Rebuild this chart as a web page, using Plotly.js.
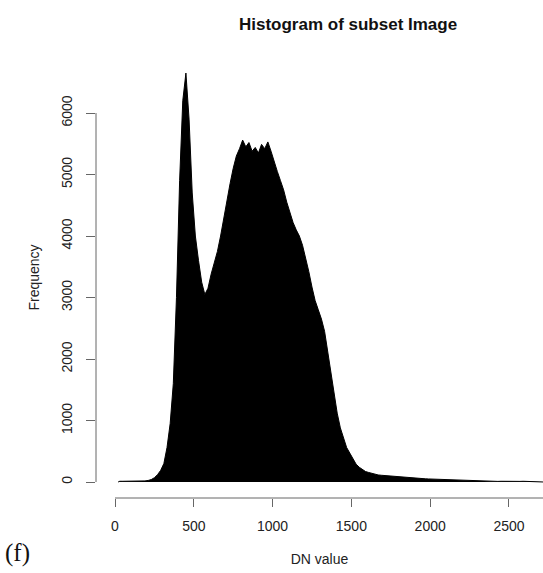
<!DOCTYPE html>
<html>
<head>
<meta charset="utf-8">
<script src="https://cdn.plot.ly/plotly-3.0.1.min.js"></script>
<style>
  html, body { margin: 0; padding: 0; background: #ffffff; }
  #chart { width: 543px; height: 573px; }
</style>
</head>
<body>
<div id="chart"></div>
<script>
// Histogram of DN values: bins start at binStart, each binWidth wide.
const binStart = 20;
const binWidth = 20;
const freq = [
  12, 12, 12, 12, 12, 12, 12, 14, 18, 25,
  40, 70, 120, 190, 300, 560, 950, 1600, 3000, 4900,
  6200, 6650, 5900, 4700, 4000, 3600, 3250, 3050, 3150, 3380,
  3550, 3750, 4000, 4300, 4550, 4850, 5100, 5300, 5420, 5560,
  5450, 5520, 5380, 5440, 5350, 5490, 5420, 5530, 5380, 5200,
  5050, 4900, 4750, 4550, 4380, 4220, 4100, 4000, 3850, 3650,
  3420, 3170, 2950, 2800, 2650, 2450, 2100, 1750, 1450, 1120,
  880, 700, 560, 470, 380, 290, 240, 200, 170, 155,
  140, 125, 115, 110, 105, 100, 98, 92, 88, 82,
  78, 72, 66, 62, 60, 58, 55, 52, 50, 48,
  46, 44, 42, 38, 35, 33, 30, 27, 24, 20,
  18, 16, 15, 14, 13, 12, 11, 12, 10, 11,
  10, 12, 10, 11, 10, 10, 11, 10, 12, 10,
  11, 10, 12, 10, 11
];
const xTicks = [0, 500, 1000, 1500, 2000, 2500, 3000];
const yTicks = [0, 1000, 2000, 3000, 4000, 5000, 6000];

// bin midpoints, with the outer bin edges closing the silhouette at zero
const mids = freq.map((_, i) => binStart + i * binWidth + binWidth / 2);
const xs = [binStart].concat(mids, [binStart + freq.length * binWidth]);
const ys = [0].concat(freq, [0]);

const axisGray = '#666666';
const textColor = '#222222';
const sans = '"Liberation Sans", Arial, sans-serif';

const trace = {
  type: 'scatter',
  mode: 'lines',
  x: xs,
  y: ys,
  line: { color: '#000000', width: 1, shape: 'linear' },
  fill: 'tozeroy',
  fillcolor: '#000000',
  hoverinfo: 'skip'
};

const layout = {
  width: 543,
  height: 573,
  margin: { l: 96, r: 0, t: 57, b: 75 },
  paper_bgcolor: '#ffffff',
  plot_bgcolor: '#ffffff',
  showlegend: false,
  font: { family: sans, size: 14, color: textColor },
  title: {
    text: '<b>Histogram of subset Image</b>',
    font: { family: sans, size: 17, color: '#111111' },
    xref: 'container', yref: 'container',
    x: 0.641, y: 0.958,
    xanchor: 'center', yanchor: 'middle'
  },
  xaxis: {
    range: [-120.6, 2716],
    tickvals: xTicks,
    ticktext: xTicks.map(String),
    ticks: 'outside', ticklen: 8, tickwidth: 1, tickcolor: axisGray,
    ticklabelstandoff: 7,
    showline: false, showgrid: false, zeroline: false,
    tickfont: { family: sans, size: 14, color: textColor },
    title: { text: 'DN value', font: { family: sans, size: 14, color: textColor }, standoff: 21 }
  },
  yaxis: {
    range: [-260, 6911],
    tickvals: yTicks,
    ticktext: yTicks.map(String),
    tickangle: -90,
    ticks: 'outside', ticklen: 9, tickwidth: 1, tickcolor: axisGray,
    ticklabelstandoff: 8,
    showline: false, showgrid: false, zeroline: false,
    tickfont: { family: sans, size: 14, color: textColor },
    title: { text: 'Frequency', font: { family: sans, size: 14, color: textColor }, standoff: 16 }
  },
  shapes: [
    // left axis line spanning the labelled tick range
    { type: 'line', xref: 'paper', yref: 'y', x0: 0, x1: 0,
      y0: yTicks[0], y1: yTicks[yTicks.length - 1],
      line: { color: axisGray, width: 1 } },
    // bottom axis line spanning the labelled tick range
    { type: 'line', xref: 'x', yref: 'paper', y0: 0, y1: 0,
      x0: xTicks[0], x1: xTicks[xTicks.length - 1],
      line: { color: axisGray, width: 1 } }
  ],
  annotations: [
    { text: '(f)', xref: 'paper', yref: 'paper', x: -0.208, y: -0.1247,
      xanchor: 'left', yanchor: 'middle', showarrow: false,
      font: { family: '"Liberation Serif", "DejaVu Serif", serif', size: 25, color: '#111111' } }
  ]
};

Plotly.newPlot('chart', [trace], layout, { staticPlot: true, displayModeBar: false });
</script>
</body>
</html>
